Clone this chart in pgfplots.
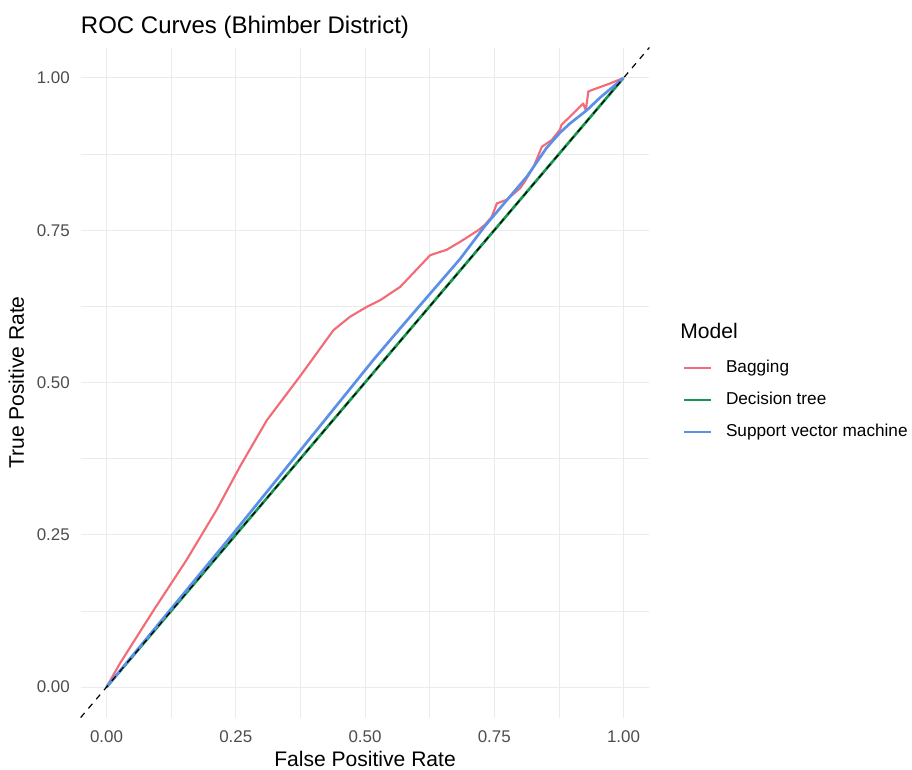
\documentclass[border=0pt]{standalone}
\usepackage{pgfplots}
\pgfplotsset{compat=1.18}
\usepackage{fontspec}
\setmainfont{Liberation Sans}

\definecolor{bagcol}{HTML}{F26B77}
\definecolor{dtcol}{HTML}{17964C}
\definecolor{svmcol}{HTML}{5B8FEA}
\definecolor{gridcol}{HTML}{EBEBEB}
\definecolor{tickcol}{HTML}{4D4D4D}

\pgfplotstableread{
fpr tpr
0.000 0.000
0.026 0.039
0.091 0.126
0.155 0.209
0.213 0.291
0.258 0.362
0.310 0.438
0.374 0.510
0.439 0.586
0.471 0.608
0.503 0.624
0.529 0.635
0.568 0.657
0.626 0.709
0.658 0.718
0.684 0.731
0.719 0.750
0.732 0.759
0.745 0.772
0.755 0.794
0.774 0.800
0.800 0.819
0.809 0.830
0.826 0.854
0.842 0.887
0.861 0.898
0.877 0.915
0.880 0.923
0.903 0.942
0.922 0.958
0.927 0.947
0.932 0.978
0.948 0.983
0.974 0.991
1.000 1.000
}\bagging

\pgfplotstableread{
fpr tpr
0.000 0.000
1.000 1.000
}\dtree

\pgfplotstableread{
fpr tpr
0.000 0.000
0.245 0.252
0.516 0.537
0.568 0.589
0.684 0.703
0.732 0.757
0.813 0.838
0.851 0.885
0.877 0.910
0.896 0.925
0.929 0.947
0.955 0.968
1.000 1.000
}\svm

\begin{document}
\begin{tikzpicture}
\begin{axis}[
 scale only axis,
 width=426.5pt,height=502.5pt,
 xmin=-0.05,xmax=1.05,ymin=-0.05,ymax=1.05,
 axis line style={draw=none},
 major tick length=0pt,minor tick length=0pt,
 tick style={draw=none},
 xtick={0,0.25,0.5,0.75,1},
 ytick={0,0.25,0.5,0.75,1},
 xticklabels={0.00,0.25,0.50,0.75,1.00},
 yticklabels={0.00,0.25,0.50,0.75,1.00},
 minor xtick={0.125,0.375,0.625,0.875},
 minor ytick={0.125,0.375,0.625,0.875},
 grid=both,
 major grid style={gridcol,line width=0.8pt},
 minor grid style={gridcol,line width=0.45pt},
 ticklabel style={font=\fontsize{12.7}{14}\selectfont,text=tickcol,inner sep=0pt},
 xticklabel style={anchor=north,yshift=-10pt},
 yticklabel style={anchor=east,xshift=-8pt},
 xlabel={False Positive Rate},
 ylabel={True Positive Rate},
 label style={font=\fontsize{15.8}{18}\selectfont},
 xlabel style={at={(axis description cs:0.5,0)},anchor=base,yshift=-36.4pt,inner sep=0pt},
 ylabel style={at={(axis description cs:-0.0997,0.5)},anchor=base,inner sep=0pt},
 clip=false,
 legend cell align=left,
 legend style={at={(axis description cs:1.059,0.5336)},anchor=north west,
   draw=none,fill=none,inner sep=0pt,row sep=11.8pt,column sep=0pt,
   font=\fontsize{12.9}{15}\selectfont,
   nodes={inner sep=0pt,text height=9.4pt,text depth=2.7pt}},
 legend image code/.code={\draw[#1,line width=1.6pt] (0pt,0pt) -- (20pt,0pt);},
]
\addplot[bagcol,line width=1.6pt,line join=round] table[x=fpr,y=tpr] {\bagging};
\addlegendentry{\hspace{10.5pt}Bagging}
\addplot[dtcol,line width=2pt,line join=round] table[x=fpr,y=tpr] {\dtree};
\addlegendentry{\hspace{10.5pt}Decision tree}
\addplot[svmcol,line width=2pt,line join=round] table[x=fpr,y=tpr] {\svm};
\addlegendentry{\hspace{10.5pt}Support vector machine}
\addplot[black,line width=0.9pt,dash pattern=on 4.5pt off 4.5pt,forget plot] coordinates {(-0.05,-0.05) (1.05,1.05)};
\node[anchor=base west,inner sep=0pt,font=\fontsize{18}{21}\selectfont] at (axis description cs:0,1.0216) {ROC Curves (Bhimber District)};
\node[anchor=base west,inner sep=0pt,font=\fontsize{15.8}{18}\selectfont] at (axis description cs:1.054,0.5664) {Model};
\coordinate (bbsw) at (axis description cs:-0.1419,-0.0769);
\coordinate (bbne) at (axis description cs:1.4618,1.0709);
\end{axis}
\pgfresetboundingbox
\useasboundingbox (bbsw) rectangle (bbne);
\end{tikzpicture}
\end{document}
